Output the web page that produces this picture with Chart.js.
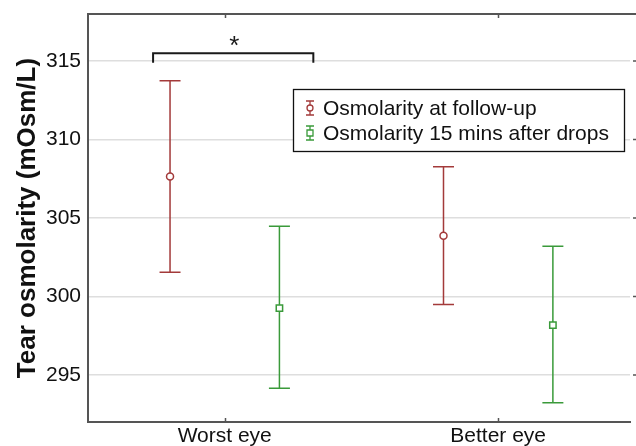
<!DOCTYPE html>
<html>
<head>
<meta charset="utf-8">
<script src="https://cdn.jsdelivr.net/npm/chart.js@4.4.0/dist/chart.umd.min.js"></script>
<style>
  html, body { margin: 0; padding: 0; background: #fff; overflow: hidden; }
</style>
</head>
<body>
<canvas id="osmoChart" width="636" height="446"></canvas>
<script>
// values (mean and error bar ends, mOsm/L)
const categories = ["Worst eye", "Better eye"];
const seriesNames = ["Osmolarity at follow-up", "Osmolarity 15 mins after drops"];
const followUpMean = [307.65, 303.87];
const followUpUpper = [313.75, 308.26];
const followUpLower = [301.54, 299.49];
const dropsMean = [299.26, 298.17];
const dropsUpper = [304.47, 303.2];
const dropsLower = [294.15, 293.22];
const yTicks = [295, 300, 305, 310, 315];

const red = "#a33a3a";
const green = "#3a9a3a";
const frame = "#555555";
const font = "Arial, 'Liberation Sans', sans-serif";

function points(mean, lo, hi, shift) {
  return categories.map(function (c, i) {
    return { x: i + 1 + shift, y: mean[i], lo: lo[i], hi: hi[i] };
  });
}

// error bars, frame, significance bracket and the boxed legend
const extras = {
  id: "extras",
  beforeDatasetsDraw: function (chart) {
    const ctx = chart.ctx;
    const xs = chart.scales.x, ys = chart.scales.y;
    chart.data.datasets.forEach(function (ds) {
      ctx.save();
      ctx.strokeStyle = ds.borderColor;
      ctx.lineWidth = 1.5;
      ds.data.forEach(function (p) {
        const x = xs.getPixelForValue(p.x);
        const yt = ys.getPixelForValue(p.hi);
        const yb = ys.getPixelForValue(p.lo);
        ctx.beginPath();
        ctx.moveTo(x, yt); ctx.lineTo(x, yb);
        ctx.moveTo(x - 10.5, yt); ctx.lineTo(x + 10.5, yt);
        ctx.moveTo(x - 10.5, yb); ctx.lineTo(x + 10.5, yb);
        ctx.stroke();
      });
      ctx.restore();
    });
  },
  afterDraw: function (chart) {
    const ctx = chart.ctx;
    const a = chart.chartArea;
    const xs = chart.scales.x, ys = chart.scales.y;
    ctx.save();
    // top frame line
    ctx.strokeStyle = frame;
    ctx.lineWidth = 2;
    ctx.beginPath();
    ctx.moveTo(a.left, a.top); ctx.lineTo(636, a.top);
    ctx.stroke();
    // small inner ticks on top/bottom, right-hand ticks
    ctx.lineWidth = 1.5;
    ctx.beginPath();
    categories.forEach(function (c, i) {
      const x = Math.round(xs.getPixelForValue(i + 1)) + 0.5;
      ctx.moveTo(x, a.top); ctx.lineTo(x, a.top + 4);
      ctx.moveTo(x, a.bottom); ctx.lineTo(x, a.bottom - 4);
    });
    yTicks.forEach(function (v) {
      const y = ys.getPixelForValue(v);
      ctx.moveTo(633, y); ctx.lineTo(636, y);
    });
    ctx.stroke();

    // significance bracket
    const bx1 = xs.getPixelForValue(0.738), bx2 = xs.getPixelForValue(1.324);
    const by = ys.getPixelForValue(315.5), byEnd = ys.getPixelForValue(314.9);
    ctx.strokeStyle = "#1a1a1a";
    ctx.lineWidth = 2;
    ctx.beginPath();
    ctx.moveTo(bx1, byEnd); ctx.lineTo(bx1, by); ctx.lineTo(bx2, by); ctx.lineTo(bx2, byEnd);
    ctx.stroke();
    ctx.fillStyle = "#1a1a1a";
    ctx.font = "26px " + font;
    ctx.textAlign = "center";
    ctx.textBaseline = "alphabetic";
    ctx.fillText("*", xs.getPixelForValue(1.035), ys.getPixelForValue(316.4) + 15);

    // legend box
    const lx = 293, ly = 89, lw = 331, lh = 62;
    ctx.fillStyle = "#fff";
    ctx.fillRect(lx, ly, lw, lh);
    ctx.strokeStyle = "#111";
    ctx.lineWidth = 1.3;
    ctx.strokeRect(lx + 0.5, ly + 0.5, lw, lh);
    chart.data.datasets.forEach(function (ds, i) {
      const cy = 108 + i * 25;
      const cx = 310;
      ctx.strokeStyle = ds.borderColor;
      ctx.lineWidth = 1.3;
      ctx.beginPath();
      ctx.moveTo(cx, cy - 7); ctx.lineTo(cx, cy + 7);
      ctx.moveTo(cx - 4, cy - 7); ctx.lineTo(cx + 4, cy - 7);
      ctx.moveTo(cx - 4, cy + 7); ctx.lineTo(cx + 4, cy + 7);
      ctx.stroke();
      ctx.beginPath();
      if (ds.pointStyle === "rect") {
        ctx.rect(cx - 3, cy - 3, 6, 6);
      } else {
        ctx.arc(cx, cy, 3, 0, Math.PI * 2);
      }
      ctx.fillStyle = "#fff";
      ctx.fill();
      ctx.stroke();
      ctx.fillStyle = "#111";
      ctx.font = "21px " + font;
      ctx.textAlign = "left";
      ctx.textBaseline = "middle";
      ctx.fillText(ds.label, 323, cy + 1);
    });
    ctx.restore();
  }
};

new Chart(document.getElementById("osmoChart"), {
  type: "scatter",
  data: {
    datasets: [
      {
        label: seriesNames[0],
        data: points(followUpMean, followUpLower, followUpUpper, -0.2),
        borderColor: red,
        backgroundColor: "#ffffff",
        pointStyle: "circle",
        pointRadius: 3.5,
        pointBorderWidth: 1.5
      },
      {
        label: seriesNames[1],
        data: points(dropsMean, dropsLower, dropsUpper, 0.2),
        borderColor: green,
        backgroundColor: "#ffffff",
        pointStyle: "rect",
        pointRadius: 4.5,
        pointBorderWidth: 1.5
      }
    ]
  },
  options: {
    responsive: false,
    animation: false,
    layout: { padding: { top: 14, right: 4, left: 0, bottom: 0 } },
    plugins: {
      legend: { display: false },
      tooltip: { enabled: false }
    },
    scales: {
      x: {
        type: "linear",
        min: 0.5,
        max: 2.482,
        afterBuildTicks: function (s) {
          s.ticks = categories.map(function (c, i) { return { value: i + 1 }; });
        },
        afterFit: function (s) {
          s.height = 24;
          s.paddingLeft = 0; s.paddingRight = 0;
        },
        grid: { display: false },
        border: { color: frame, width: 2 },
        ticks: {
          autoSkip: false,
          maxRotation: 0,
          padding: 0,
          color: "#111",
          font: { family: font, size: 21, lineHeight: 0.6 },
          callback: function (v) { return categories[v - 1] || ""; }
        }
      },
      y: {
        min: 292,
        max: 318,
        afterBuildTicks: function (s) {
          s.ticks = yTicks.map(function (v) { return { value: v }; });
        },
        afterFit: function (s) {
          s.width = 88;
          s.paddingTop = 0; s.paddingBottom = 0;
        },
        grid: { color: "#dedede", lineWidth: 1.5, drawTicks: false },
        border: { color: frame, width: 2 },
        ticks: {
          padding: 7,
          color: "#111",
          font: { family: font, size: 21 }
        },
        title: {
          display: true,
          text: "Tear osmolarity (mOsm/L)",
          color: "#111",
          font: { family: font, size: 26, weight: "bold" },
          padding: { top: 12, bottom: 0 }
        }
      }
    }
  },
  plugins: [extras]
});
</script>
</body>
</html>
